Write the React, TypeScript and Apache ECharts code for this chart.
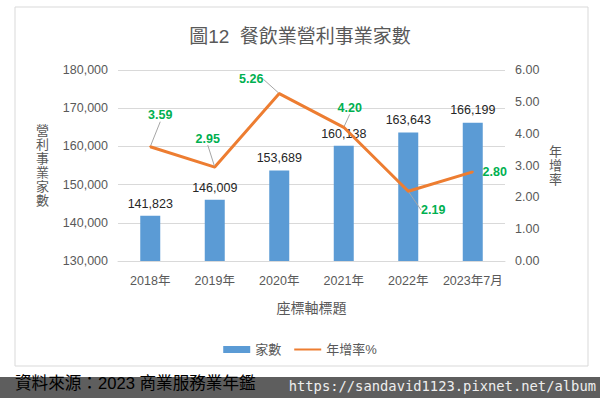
import React, { useEffect, useRef } from "react";
import * as echarts from "echarts";

const categories = ["2018年", "2019年", "2020年", "2021年", "2022年", "2023年7月"];
const counts = [141823, 146009, 153689, 160138, 163643, 166199];
const growth = [3.59, 2.95, 5.26, 4.2, 2.19, 2.8];
const leftAxis = { min: 130000, max: 180000, interval: 10000 };
const rightAxis = { min: 0, max: 6, interval: 1 };
const labelShift = [
  [10, -19],
  [-7, -16],
  [-28, -2],
  [6, -7],
  [25, 31],
  [22, 12],
];

const FONT = "'Liberation Sans', 'Noto Sans CJK TC', sans-serif";

export default function App() {
  const ref = useRef<HTMLDivElement>(null);
  useEffect(() => {
    if (!ref.current) return;
    const chart = echarts.init(ref.current, undefined, { renderer: "svg" });
    chart.setOption({
      animation: false,
      backgroundColor: "#ffffff",
      textStyle: { fontFamily: FONT },
      title: {
        text: "圖12  餐飲業營利事業家數",
        left: "center",
        top: 22,
        textStyle: { fontSize: 19, fontWeight: "normal", color: "#595959", fontFamily: FONT },
      },
      legend: {
        left: "center",
        top: 338,
        itemWidth: 27,
        itemHeight: 7,
        itemGap: 12,
        textStyle: { fontSize: 13, color: "#595959", fontFamily: FONT },
        data: [
          { name: "家數", icon: "rect" },
          { name: "年增率%", itemStyle: { opacity: 0 } },
        ],
      },
      grid: { left: 118, right: 95, top: 70, bottom: 137 },
      xAxis: {
        type: "category",
        data: categories,
        name: "座標軸標題",
        nameLocation: "middle",
        nameGap: 40,
        nameTextStyle: { fontSize: 14, color: "#595959", fontFamily: FONT },
        axisLine: { lineStyle: { color: "#D9D9D9" } },
        axisTick: { show: false },
        axisLabel: { fontSize: 12.5, color: "#595959", margin: 14, interval: 0 },
      },
      yAxis: [
        {
          type: "value",
          ...leftAxis,
          name: "營\n利\n事\n業\n家\n數",
          nameLocation: "middle",
          nameRotate: 0,
          nameGap: 69,
          nameTextStyle: { fontSize: 13, lineHeight: 14, color: "#595959", fontFamily: FONT },
          axisLine: { show: false },
          axisTick: { show: false },
          axisLabel: {
            fontSize: 12.5,
            color: "#595959",
            margin: 10,
            formatter: (v: number) => v.toLocaleString("en-US"),
          },
          splitLine: { lineStyle: { color: "#D9D9D9" } },
        },
        {
          type: "value",
          ...rightAxis,
          name: "年\n增\n率",
          nameLocation: "middle",
          nameRotate: 0,
          nameGap: 44,
          nameTextStyle: { fontSize: 13, lineHeight: 14, color: "#595959", fontFamily: FONT },
          axisLine: { show: false },
          axisTick: { show: false },
          axisLabel: {
            fontSize: 12.5,
            color: "#595959",
            margin: 10,
            formatter: (v: number) => v.toFixed(2),
          },
          splitLine: { show: false },
        },
      ],
      series: [
        {
          name: "家數",
          type: "bar",
          data: counts,
          barWidth: 20,
          itemStyle: { color: "#5B9BD5" },
          label: {
            show: true,
            position: "top",
            distance: 6,
            fontSize: 12.5,
            color: "#262626",
            formatter: (p: any) => Number(p.value).toLocaleString("en-US"),
          },
        },
        {
          name: "年增率%",
          type: "line",
          yAxisIndex: 1,
          data: growth.map((v, i) =>
            i === 5 ? { value: v, labelLine: { show: false } } : v
          ),
          symbol: "circle",
          symbolSize: 2,
          itemStyle: { color: "#ED7D31" },
          lineStyle: { color: "#ED7D31", width: 3 },
          z: 5,
          label: {
            show: true,
            position: "top",
            distance: 5,
            fontSize: 12.5,
            fontWeight: "bold",
            color: "#00B050",
            formatter: (p: any) => Number(p.value).toFixed(2),
          },
          labelLine: { show: true, lineStyle: { color: "#A6A6A6", width: 1 } },
          labelLayout: (p: any) => {
            const s = labelShift[p.dataIndex] || [0, 0];
            return { dx: s[0], dy: s[1] };
          },
        },
      ],
      graphic: [
        {
          type: "rect",
          shape: { x: 15, y: 7, width: 573, height: 359 },
          style: { fill: "none", stroke: "#D9D9D9", lineWidth: 1 },
          z: -10,
        },
        {
          type: "rect",
          shape: { x: 0, y: 377, width: 600, height: 21 },
          style: { fill: "#5E5E5E" },
          z: 1,
        },
        {
          type: "text",
          x: 15,
          y: 383,
          z: 2,
          style: {
            text: "資料來源：2023 商業服務業年鑑",
            font: `16.6px ${FONT}`,
            fill: "#000000",
            textVerticalAlign: "middle",
            verticalAlign: "middle",
          },
        },
        {
          type: "text",
          x: 596,
          y: 386,
          z: 2,
          style: {
            text: "https://sandavid1123.pixnet.net/album",
            font: "13.8px 'DejaVu Sans Mono', monospace",
            fill: "#EEEEEE",
            align: "right",
            textAlign: "right",
            verticalAlign: "middle",
            textVerticalAlign: "middle",
          },
        },
      ],
    });
    return () => chart.dispose();
  }, []);
  return (
    <div
      ref={ref}
      style={{ position: "fixed", left: 0, top: 0, width: 600, height: 398, background: "#fff" }}
    />
  );
}
